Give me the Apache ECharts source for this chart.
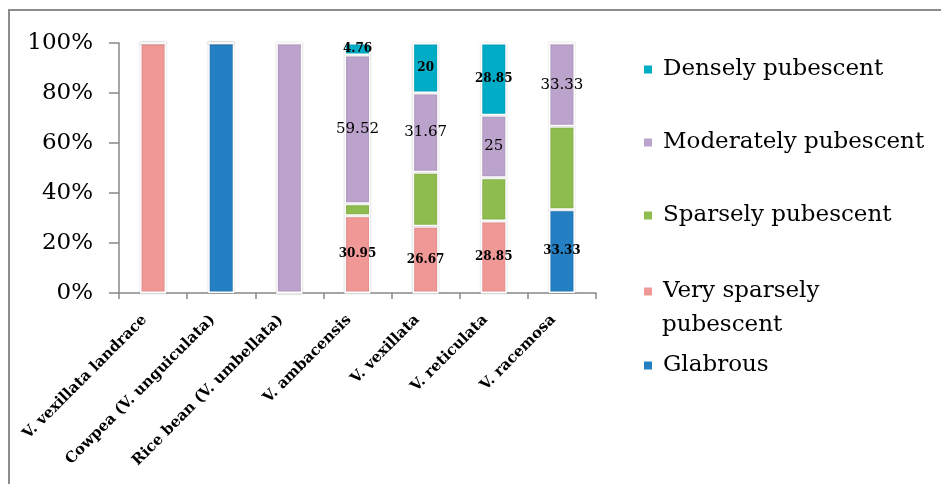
<!DOCTYPE html>
<html>
<head>
<meta charset="utf-8">
<script src="https://cdn.jsdelivr.net/npm/echarts@6/dist/echarts.min.js"></script>
<style>html,body{margin:0;padding:0;background:#fff;}#c{width:941px;height:484px;}</style>
</head>
<body>
<div id="c"></div>
<script>
const categories = ['V. vexillata landrace', 'Cowpea (V. unguiculata)', 'Rice bean (V. umbellata)', 'V. ambacensis', 'V. vexillata', 'V. reticulata', 'V. racemosa'];
const glabrous = [0, 100, 0, 0, 0, 0, 33.33];
const verySparsely = [100, 0, 0, 30.95, 26.67, 28.85, 0];
const sparsely = [0, 0, 0, 4.77, 21.66, 17.30, 33.34];
const moderately = [0, 0, 100, 59.52, 31.67, 25, 33.33];
const densely = [0, 0, 0, 4.76, 20, 28.85, 0];
const yTicks = [0, 20, 40, 60, 80, 100];

const FONT = 'DejaVu Serif';
const chart = echarts.init(document.getElementById('c'));
const fmt = p => (p.value === 0 || p.value === 100) ? '' : String(p.value);

function mk(name, data, color, label) {
  return {
    name, type: 'bar', stack: 'a', data, barWidth: 26,
    itemStyle: { color, borderColor: '#fff', borderWidth: 1.5, shadowColor: 'rgba(0,0,0,0.18)', shadowBlur: 2 },
    label: label ? Object.assign({ show: true, position: 'inside', formatter: fmt, color: '#000', fontFamily: FONT }, label) : { show: false },
    emphasis: { disabled: true }
  };
}

function leg(name, top, text) {
  return {
    data: [name], orient: 'vertical', left: 642, top, padding: 0,
    itemWidth: 10, itemHeight: 10, icon: 'rect', selectedMode: false,
    formatter: text ? (() => text) : undefined,
    textStyle: { fontFamily: FONT, fontSize: 23, color: '#000', padding: [0, 0, 0, 5] }
  };
}

chart.setOption({
  animation: false,
  backgroundColor: '#fff',
  grid: { left: 119, right: 345, top: 43, bottom: 191, containLabel: false },
  legend: [
    leg('Densely pubescent', 58),
    leg('Moderately pubescent', 131),
    leg('Sparsely pubescent', 204),
    leg('Very sparsely pubescent', 280, 'Very sparsely'),
    leg('Glabrous', 354)
  ],
  graphic: [
    { type: 'rect', shape: { x: 9, y: 10, width: 1000, height: 1000 }, style: { fill: 'none', stroke: '#8c8c8c', lineWidth: 2 }, silent: true },
    { type: 'text', left: 662, top: 314, style: { text: 'pubescent', fontFamily: FONT, fontSize: 23, fill: '#000' }, silent: true }
  ],
  xAxis: {
    type: 'category', data: categories,
    axisLine: { lineStyle: { color: '#888', width: 1.5 } },
    axisTick: { show: true, length: 6, lineStyle: { color: '#888', width: 1.5 } },
    axisLabel: { rotate: 45, interval: 0, margin: 16, padding: [0, 12, 0, 0], fontFamily: FONT, fontWeight: 'bold', fontSize: 15, color: '#000' }
  },
  yAxis: {
    type: 'value', min: 0, max: 100, interval: 20,
    axisLine: { show: true, lineStyle: { color: '#888', width: 1.5 } },
    axisTick: { show: true, length: 10, lineStyle: { color: '#888', width: 1.5 } },
    splitLine: { show: false },
    axisLabel: { margin: 26, fontFamily: FONT, fontSize: 23, color: '#000', formatter: v => yTicks.includes(v) ? v + '%' : '' }
  },
  series: [
    mk('Glabrous', glabrous, '#2580C3', { fontWeight: 'bold', fontSize: 12 }),
    mk('Very sparsely pubescent', verySparsely, '#F09896', { fontWeight: 'bold', fontSize: 12 }),
    mk('Sparsely pubescent', sparsely, '#8FBC4F', null),
    mk('Moderately pubescent', moderately, '#BBA3CB', { fontWeight: 'normal', fontSize: 15 }),
    mk('Densely pubescent', densely, '#00ACC6', { fontWeight: 'bold', fontSize: 12 })
  ]
});
</script>
</body>
</html>
